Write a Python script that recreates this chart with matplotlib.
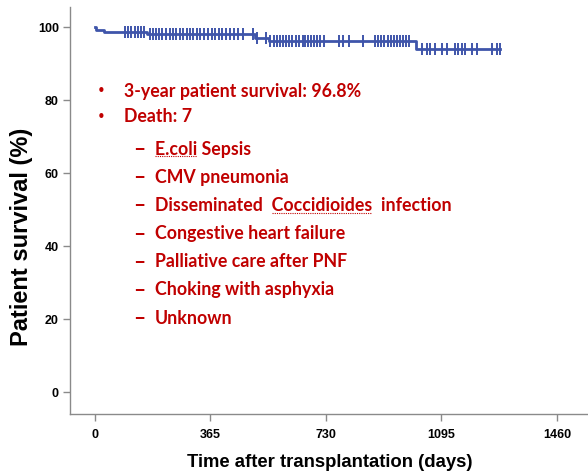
import numpy as np
import matplotlib
matplotlib.use("Agg")
import matplotlib.pyplot as plt
from matplotlib.lines import Line2D

# Kaplan-Meier steps (day of death, survival after it, %)
death_days = [3, 28, 165, 506, 550, 1014]
surv_after = [99.3, 98.6, 98.0, 97.0, 96.1, 93.9]

# censored patients (days)
censor_days = [95, 104, 114, 126, 136, 145, 155,
               174, 183, 193, 202, 212, 224, 237, 247, 256, 269, 278, 291, 300,
               310, 322, 332, 344, 357, 370, 379, 392, 401, 414, 427, 439, 452, 468,
               499, 512, 540, 553, 566, 575, 585, 594, 604, 613, 623, 635, 645,
               657, 664, 673, 683, 692, 702, 711, 724, 771, 784, 803, 847,
               885, 894, 904, 913, 926, 936, 945, 955, 964, 973, 983, 992,
               1033, 1049, 1059, 1075, 1097, 1113, 1138, 1147, 1160, 1169,
               1192, 1207, 1255, 1271, 1280]

xticks = [0, 365, 730, 1095, 1460]
yticks = [0, 20, 40, 60, 80, 100]

bullets = ["3-year patient survival: 96.8%", "Death: 7"]
causes = ["E.coli Sepsis", "CMV pneumonia", "Disseminated  Coccidioides  infection",
          "Congestive heart failure", "Palliative care after PNF",
          "Choking with asphyxia", "Unknown"]
# words marked by the spell checker (cause index, word)
flagged = [(0, "E.coli"), (2, "Coccidioides")]

blue = "#3F55AA"
red = "#C00000"
grey = "#8a8a8a"

# step curve
xs = [0] + death_days + [censor_days[-1]]
ys = [100.0] + surv_after + [surv_after[-1]]

def surv_at(t):
    s = 100.0
    for d, v in zip(death_days, surv_after):
        if t >= d:
            s = v
    return s

W, H = 588, 473
fig = plt.figure(figsize=(5.88, 4.73), dpi=100)
ax = fig.add_axes([70 / W, 1 - 414 / H, 1 - 70 / W, (414 - 7) / H])

ax.step(xs, ys, where="post", color=blue, lw=2)
ax.plot(censor_days, [surv_at(t) for t in censor_days], ls="none",
        marker="|", ms=8, mew=1.4, color=blue)

ax.set_xlim(-79, 1558)
ax.set_ylim(-6, 105.5)
ax.set_xticks(xticks)
ax.set_yticks(yticks)

tick_font = dict(family=["Liberation Sans"], weight="bold", size=9)
ax.set_xticklabels([str(v) for v in xticks], **tick_font)
ax.set_yticklabels([str(v) for v in yticks], **tick_font)
ax.tick_params(direction="out", length=5, width=1, color=grey, pad=3)
ax.tick_params(axis="x", pad=6)

for s in ["top", "right"]:
    ax.spines[s].set_visible(False)
for s in ["left", "bottom"]:
    ax.spines[s].set_color(grey)
    ax.spines[s].set_linewidth(1)

ax.set_xlabel("Time after transplantation (days)",
              family="Liberation Sans", weight="bold", size=13.3)
ax.xaxis.set_label_coords((330 - 70) / 518, -(462 - 414) / 407)
ax.xaxis.label.set_va("center")
ax.set_ylabel("Patient survival (%)",
              family="Liberation Sans", weight="bold", size=17)
ax.yaxis.set_label_coords((22 - 70) / 518, (414 - 237) / 407)
ax.yaxis.label.set_va("center")

# annotation text
txt_font = dict(family=["Lato", "DejaVu Sans"], weight="bold", size=12.8, color=red, va="center")
for i, b in enumerate(bullets):
    y = 1 - (91 + 26 * i) / H
    fig.text(97 / W, y, "•", family="DejaVu Sans", size=10.5, color=red, va="center")
    fig.text(124 / W, y, b, **txt_font)

cause_text = []
for i, c in enumerate(causes):
    y = 1 - (149 + 28.2 * i) / H
    fig.text(133 / W, y, "–", **dict(txt_font, size=15))
    cause_text.append(fig.text(155 / W, y, c, **txt_font))

# dotted spell-check underlines
r = fig.canvas.get_renderer()

def width(s):
    if not s:
        return 0.0
    tmp = fig.text(0, 0, s, **txt_font)
    w = tmp.get_window_extent(r).width
    tmp.remove()
    return w

for i, word in flagged:
    t = cause_text[i]
    full = t.get_text()
    start = full.index(word)
    bb = t.get_window_extent(r)
    x0 = bb.x0 + width(full[:start].rstrip()) + (width(full[:start]) - width(full[:start].rstrip()))
    x1 = bb.x0 + width(full[:start + len(word)])
    yl = bb.y0 + 1
    fig.add_artist(Line2D([x0 / W, x1 / W], [yl / H, yl / H], color=red,
                          lw=0.8, ls=(0, (1, 1)), transform=fig.transFigure))

fig.savefig("out.png", dpi=100)
